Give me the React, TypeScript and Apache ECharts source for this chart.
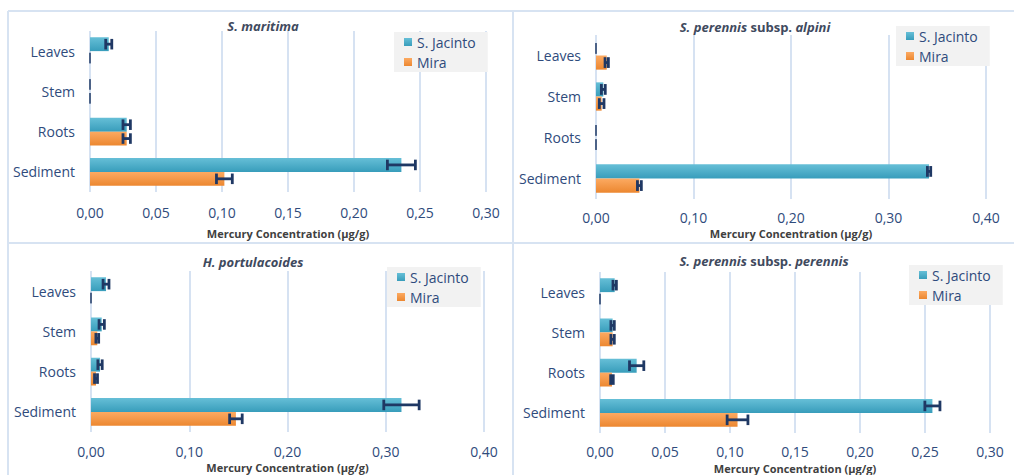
import React, { useEffect, useRef } from "react";
import * as echarts from "echarts";

const categories = ["Leaves", "Stem", "Roots", "Sediment"];

const maritimaSJ = [0.0142, 0, 0.0278, 0.2359];
const maritimaSJErr = [0.0023, 0, 0.0028, 0.0106];
const maritimaMira = [0, 0, 0.0278, 0.1018];
const maritimaMiraErr = [0, 0, 0.0028, 0.006];

const alpiniSJ = [0, 0.0075, 0, 0.3416];
const alpiniSJErr = [0, 0.002, 0, 0.0017];
const alpiniMira = [0.011, 0.0058, 0, 0.0445];
const alpiniMiraErr = [0.0017, 0.0024, 0, 0.002];

const portSJ = [0.0153, 0.0109, 0.0092, 0.316];
const portSJErr = [0.003, 0.0027, 0.0022, 0.018];
const portMira = [0, 0.0064, 0.0051, 0.1475];
const portMiraErr = [0, 0.0014, 0.0015, 0.0064];

const perennisSJ = [0.0113, 0.0097, 0.0282, 0.2557];
const perennisSJErr = [0.0013, 0.0013, 0.0055, 0.0058];
const perennisMira = [0, 0.0097, 0.0092, 0.1058];
const perennisMiraErr = [0, 0.0013, 0.001, 0.008];

const axisMax = [0.3, 0.4, 0.4, 0.3];
const axisInterval = [0.05, 0.1, 0.1, 0.05];
const seriesNames = ["S. Jacinto", "Mira"];
const axisTitle = "Mercury Concentration (µg/g)";

const FONT = "'Open Sans', 'Liberation Sans', sans-serif";
const LABEL = "#2f4b7c";
const ERR = "#1f3864";
const GAP = 0.31;

const sjColor = new echarts.graphic.LinearGradient(0, 0, 0, 1, [
  { offset: 0, color: "#66bfd7" },
  { offset: 1, color: "#389dbb" },
]);
const miraColor = new echarts.graphic.LinearGradient(0, 0, 0, 1, [
  { offset: 0, color: "#fcaa62" },
  { offset: 1, color: "#ec8730" },
]);

const panels = [
  { sj: maritimaSJ, sjE: maritimaSJErr, mi: maritimaMira, miE: maritimaMiraErr },
  { sj: alpiniSJ, sjE: alpiniSJErr, mi: alpiniMira, miE: alpiniMiraErr },
  { sj: portSJ, sjE: portSJErr, mi: portMira, miE: portMiraErr },
  { sj: perennisSJ, sjE: perennisSJErr, mi: perennisMira, miE: perennisMiraErr },
];

const grids = [
  { left: 90, width: 396, top: 31, height: 161 },
  { left: 596, width: 390, top: 35, height: 164 },
  { left: 91, width: 393, top: 271, height: 161 },
  { left: 600, width: 390, top: 272, height: 161 },
];
const nameGaps = [36, 29, 30, 30];
const tickMargins = [13, 11, 12, 11];
const legendPos = [
  { left: 394, top: 32 },
  { left: 896, top: 26 },
  { left: 387, top: 267 },
  { left: 909, top: 265 },
];
const titles = [
  { x: 263, y: 26, text: "{i|S. maritima}" },
  { x: 755, y: 27, text: "{i|S. perennis} {b|subsp.} {i|alpini}" },
  { x: 253, y: 262, text: "{i|H. portulacoides}" },
  { x: 764, y: 261, text: "{i|S. perennis} {b|subsp.} {i|perennis}" },
];

function makeErr(which: number) {
  return (params: any, api: any) => {
    const v = api.value(0);
    const c = api.value(1);
    const e = api.value(2);
    const p = api.coord([v, c]);
    const band = api.size([0, 1])[1];
    const bw = (band * (1 - GAP)) / 2;
    const y = p[1] + (which === 0 ? -bw / 2 : bw / 2);
    const lo = api.coord([v - e, c])[0];
    const hi = api.coord([v + e, c])[0];
    const h = bw * 0.38;
    const lw = e === 0 ? 1 : 2.8;
    const style = { stroke: ERR, lineWidth: lw };
    return {
      type: "group",
      children: [
        { type: "line", shape: { x1: lo, y1: y, x2: hi, y2: y }, style },
        { type: "line", shape: { x1: lo, y1: y - h, x2: lo, y2: y + h }, style },
        { type: "line", shape: { x1: hi, y1: y - h, x2: hi, y2: y + h }, style },
      ],
    };
  };
}

export default function App() {
  const ref = useRef<HTMLDivElement>(null);
  useEffect(() => {
    if (!ref.current) return;
    const chart = echarts.init(ref.current, null, { renderer: "svg" });
    const series: any[] = [];
    panels.forEach((p, k) => {
      series.push({
        type: "bar",
        name: seriesNames[0],
        xAxisIndex: k,
        yAxisIndex: k,
        data: p.sj,
        barGap: "0%",
        barCategoryGap: GAP * 100 + "%",
        itemStyle: { color: sjColor },
      });
      series.push({
        type: "bar",
        name: seriesNames[1],
        xAxisIndex: k,
        yAxisIndex: k,
        data: p.mi,
        barGap: "0%",
        barCategoryGap: GAP * 100 + "%",
        itemStyle: { color: miraColor },
      });
      series.push({
        type: "custom",
        name: "errSJ" + k,
        xAxisIndex: k,
        yAxisIndex: k,
        z: 5,
        encode: { x: 0, y: 1 },
        data: p.sj.map((v, i) => [v, i, p.sjE[i]]),
        renderItem: makeErr(0),
      });
      series.push({
        type: "custom",
        name: "errMira" + k,
        xAxisIndex: k,
        yAxisIndex: k,
        z: 5,
        encode: { x: 0, y: 1 },
        data: p.mi.map((v, i) => [v, i, p.miE[i]]),
        renderItem: makeErr(1),
      });
    });

    const option: any = {
      animation: false,
      backgroundColor: "#ffffff",
      grid: grids.map((g) => ({ ...g, containLabel: false })),
      xAxis: grids.map((g, k) => ({
        type: "value",
        gridIndex: k,
        min: 0,
        max: axisMax[k],
        interval: axisInterval[k],
        name: axisTitle,
        nameLocation: "middle",
        nameGap: nameGaps[k],
        nameTextStyle: { fontFamily: FONT, fontSize: 11, fontWeight: "bold", color: "#404040", lineHeight: 11 },
        axisLine: { show: false },
        axisTick: { show: false },
        axisLabel: {
          margin: tickMargins[k],
          fontFamily: FONT,
          fontSize: 14,
          lineHeight: 14,
          color: LABEL,
          formatter: (v: number) => v.toFixed(2).replace(".", ","),
        },
        splitLine: { show: true, lineStyle: { color: "#d6e2f2", width: 2 } },
      })),
      yAxis: grids.map((g, k) => ({
        type: "category",
        gridIndex: k,
        inverse: true,
        data: categories,
        axisLine: { show: false },
        axisTick: { show: false },
        axisLabel: { margin: 15, fontFamily: FONT, fontSize: 14, color: LABEL },
      })),
      legend: legendPos.map((l) => ({
        ...l,
        orient: "vertical",
        data: seriesNames,
        icon: "rect",
        itemWidth: 8,
        itemHeight: 8,
        itemGap: 6,
        padding: [3, 12, 3, 10],
        backgroundColor: "#f2f2f2",
        textStyle: { fontFamily: FONT, fontSize: 14, color: LABEL },
      })),
      graphic: [
        { type: "line", shape: { x1: 8, y1: 11, x2: 1014, y2: 11 }, style: { stroke: "#d7e3f2", lineWidth: 2 } },
        { type: "line", shape: { x1: 8, y1: 243, x2: 1014, y2: 243 }, style: { stroke: "#d7e3f2", lineWidth: 2 } },
        { type: "line", shape: { x1: 8, y1: 11, x2: 8, y2: 475 }, style: { stroke: "#d7e3f2", lineWidth: 2 } },
        { type: "line", shape: { x1: 513, y1: 11, x2: 513, y2: 475 }, style: { stroke: "#d7e3f2", lineWidth: 2 } },
        ...titles.map((t) => ({
          type: "text",
          x: t.x,
          y: t.y,
          style: {
            text: t.text,
            align: "center",
            verticalAlign: "middle",
            rich: {
              i: { fontFamily: FONT, fontSize: 13, fontWeight: "bold", fontStyle: "italic", fill: "#3f4a5e" },
              b: { fontFamily: FONT, fontSize: 13, fontWeight: "bold", fill: "#3f4a5e" },
            },
          },
        })),
      ],
      series,
    };
    chart.setOption(option);
    return () => chart.dispose();
  }, []);
  return (
    <div
      ref={ref}
      style={{ position: "fixed", left: 0, top: 0, width: 1014, height: 475, background: "#fff" }}
    />
  );
}
